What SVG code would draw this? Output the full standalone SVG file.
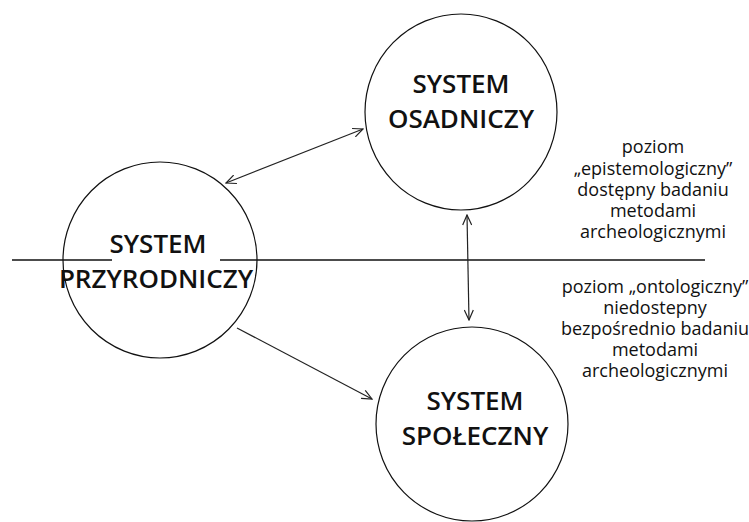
<svg xmlns="http://www.w3.org/2000/svg" width="749" height="522" viewBox="0 0 749 522">
<style>
.node{fill:none;stroke:#111;stroke-width:1.2}
.big{font-family:"Open Sans","Liberation Sans",sans-serif;font-size:26px;font-weight:600;fill:#111;text-anchor:middle}
.small{font-family:"Open Sans","Liberation Sans",sans-serif;font-size:18px;font-weight:500;fill:#111;text-anchor:middle}
.conn{stroke:#222;stroke-width:1.2;fill:none}
.lvl{stroke:#111;stroke-width:1.3}
</style>
<defs>
<marker id="ah" viewBox="0 0 12 10" refX="11" refY="5" markerWidth="12" markerHeight="10" markerUnits="userSpaceOnUse" orient="auto-start-reverse">
<path d="M1,0.5 L11,5 L1,9.5" fill="none" stroke="#222" stroke-width="1.2"/>
</marker>
</defs>
<rect width="749" height="522" fill="#fff"/>
<g id="level-line">
<line class="lvl" x1="12" y1="260" x2="112" y2="260"/>
<line class="lvl" x1="220" y1="260" x2="705" y2="260"/>
</g>
<g id="osadniczy">
<ellipse class="node" cx="461" cy="112" rx="96" ry="98"/>
<text class="big" x="461" y="93">SYSTEM</text>
<text class="big" x="461" y="128">OSADNICZY</text>
</g>
<g id="przyrodniczy">
<ellipse class="node" cx="160" cy="260" rx="97" ry="98"/>
<text class="big" x="158" y="253">SYSTEM</text>
<text class="big" x="156" y="288">PRZYRODNICZY</text>
</g>
<g id="spoleczny">
<ellipse class="node" cx="472" cy="424" rx="96" ry="97"/>
<text class="big" x="475" y="410">SYSTEM</text>
<text class="big" x="475" y="445">SPOŁECZNY</text>
</g>
<g id="connectors">
<line class="conn" x1="226" y1="183" x2="363" y2="129" marker-start="url(#ah)" marker-end="url(#ah)"/>
<line class="conn" x1="237" y1="328" x2="372" y2="399" marker-end="url(#ah)"/>
<line class="conn" x1="467" y1="215" x2="469" y2="320" marker-start="url(#ah)" marker-end="url(#ah)"/>
</g>
<g id="label-epistemological">
<text class="small" x="653" y="153">poziom</text>
<text class="small" x="653" y="175">„epistemologiczny”</text>
<text class="small" x="653" y="196">dostępny badaniu</text>
<text class="small" x="653" y="217">metodami</text>
<text class="small" x="653" y="238">archeologicznymi</text>
</g>
<g id="label-ontological">
<text class="small" x="655" y="293">poziom „ontologiczny”</text>
<text class="small" x="655" y="314">niedostepny</text>
<text class="small" x="655" y="335">bezpośrednio badaniu</text>
<text class="small" x="655" y="356">metodami</text>
<text class="small" x="655" y="377">archeologicznymi</text>
</g>
</svg>
